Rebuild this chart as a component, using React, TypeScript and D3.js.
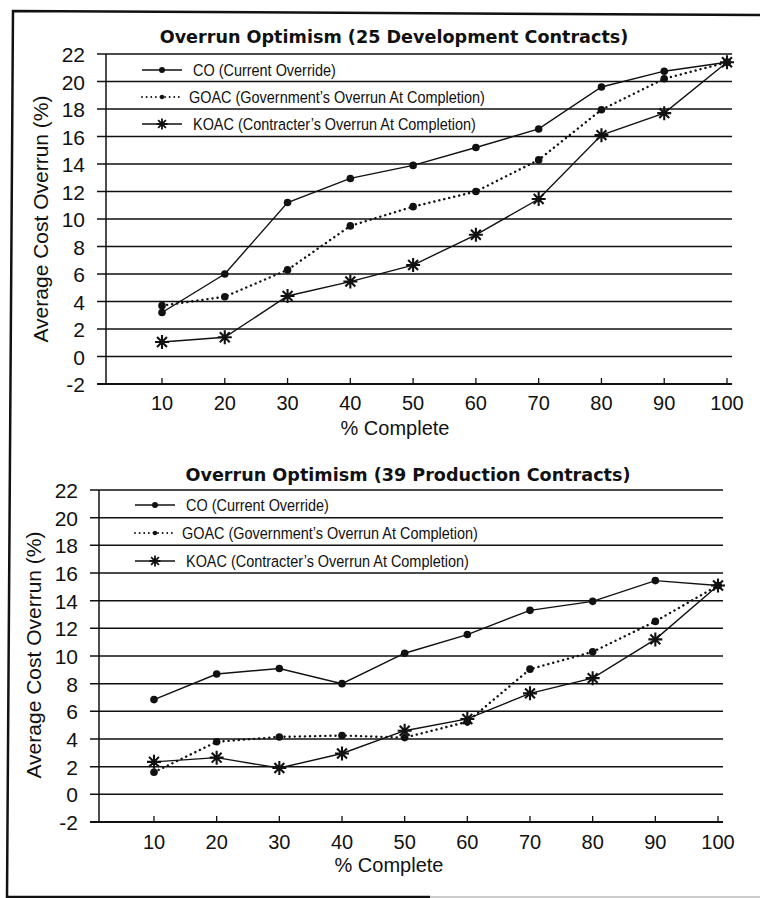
import * as d3 from "d3";
import { useEffect, useRef } from "react";

const PCT_COMPLETE = [10, 20, 30, 40, 50, 60, 70, 80, 90, 100];
const Y_TICKS = [-2, 0, 2, 4, 6, 8, 10, 12, 14, 16, 18, 20, 22];

const DEV_CO = [3.2, 6.0, 11.2, 12.95, 13.9, 15.2, 16.55, 19.6, 20.75, 21.4];
const DEV_GOAC = [3.7, 4.35, 6.3, 9.5, 10.9, 12.0, 14.3, 17.95, 20.2, 21.4];
const DEV_KOAC = [1.05, 1.4, 4.4, 5.45, 6.65, 8.85, 11.45, 16.1, 17.7, 21.4];

const PROD_CO = [6.85, 8.7, 9.1, 8.0, 10.2, 11.55, 13.3, 13.95, 15.45, 15.1];
const PROD_GOAC = [1.6, 3.8, 4.15, 4.25, 4.1, 5.25, 9.05, 10.3, 12.5, 15.1];
const PROD_KOAC = [2.35, 2.65, 1.9, 2.95, 4.6, 5.45, 7.3, 8.4, 11.2, 15.1];

const LEGEND_LABELS = [
  "CO (Current Override)",
  "GOAC (Government\u2019s Overrun At Completion)",
  "KOAC (Contracter\u2019s Overrun At Completion)",
];

const TICK_FONT = "'Liberation Sans', Arial, sans-serif";
const TITLE_FONT = "'DejaVu Sans', Arial, sans-serif";

type PanelLayout = {
  title: string;
  titleX: number;
  titleY: number;
  axisLeft: number;
  gridLeft: number;
  gridRight: number;
  xRange: [number, number];
  yRange: [number, number];
  yTickX: number;
  xTickY: number;
  xLabelX: number;
  xLabelY: number;
  yLabelX: number;
  yLabelY: number;
  legendX: number;
  legendRows: number[];
  co: number[];
  goac: number[];
  koac: number[];
};

const PANELS: PanelLayout[] = [
  {
    title: "Overrun Optimism (25 Development Contracts)",
    titleX: 394,
    titleY: 43,
    axisLeft: 106,
    gridLeft: 97,
    gridRight: 732,
    xRange: [162, 727],
    yRange: [384, 54],
    yTickX: 85,
    xTickY: 410,
    xLabelX: 395,
    xLabelY: 435,
    yLabelX: 41,
    yLabelY: 219,
    legendX: 142,
    legendRows: [70, 97, 124],
    co: DEV_CO,
    goac: DEV_GOAC,
    koac: DEV_KOAC,
  },
  {
    title: "Overrun Optimism (39 Production Contracts)",
    titleX: 408,
    titleY: 481,
    axisLeft: 99,
    gridLeft: 90,
    gridRight: 723,
    xRange: [154, 718],
    yRange: [822, 490],
    yTickX: 78,
    xTickY: 849,
    xLabelX: 389,
    xLabelY: 872,
    yLabelX: 34,
    yLabelY: 655,
    legendX: 135,
    legendRows: [505, 533, 561],
    co: PROD_CO,
    goac: PROD_GOAC,
    koac: PROD_KOAC,
  },
];

const starPath = (r: number) => {
  const parts: string[] = [];
  for (let i = 0; i < 4; i++) {
    const a = (i * Math.PI) / 4;
    const dx = Math.cos(a) * r;
    const dy = Math.sin(a) * r;
    parts.push(`M${-dx},${-dy}L${dx},${dy}`);
  }
  return parts.join("");
};

const drawPanel = (root: d3.Selection<SVGGElement, unknown, null, undefined>, p: PanelLayout) => {
  const x = d3.scaleLinear().domain([10, 100]).range(p.xRange);
  const y = d3.scaleLinear().domain([-2, 22]).range(p.yRange);
  const g = root.append("g");

  // horizontal grid, extended left of the axis like tick marks
  g.selectAll("line.grid")
    .data(Y_TICKS)
    .join("line")
    .attr("class", "grid")
    .attr("x1", p.gridLeft)
    .attr("x2", p.gridRight)
    .attr("y1", (d) => y(d))
    .attr("y2", (d) => y(d))
    .attr("stroke", "#111")
    .attr("stroke-width", (d) => (d === -2 ? 2 : 1.5));

  g.append("line")
    .attr("x1", p.axisLeft)
    .attr("x2", p.axisLeft)
    .attr("y1", y(22))
    .attr("y2", y(-2))
    .attr("stroke", "#111")
    .attr("stroke-width", 1.5);

  g.selectAll("line.xtick")
    .data(PCT_COMPLETE)
    .join("line")
    .attr("class", "xtick")
    .attr("x1", (d) => x(d))
    .attr("x2", (d) => x(d))
    .attr("y1", y(-2))
    .attr("y2", y(-2) - 6)
    .attr("stroke", "#111")
    .attr("stroke-width", 1.3);

  g.selectAll("text.ytick")
    .data(Y_TICKS)
    .join("text")
    .attr("class", "ytick")
    .attr("x", p.yTickX)
    .attr("y", (d) => y(d) + 8)
    .attr("text-anchor", "end")
    .style("font-family", TICK_FONT)
    .style("font-size", "21px")
    .attr("fill", "#111")
    .text((d) => d);

  g.selectAll("text.xtick")
    .data(PCT_COMPLETE)
    .join("text")
    .attr("class", "xtick")
    .attr("x", (d) => x(d))
    .attr("y", p.xTickY)
    .attr("text-anchor", "middle")
    .style("font-family", TICK_FONT)
    .style("font-size", "20px")
    .attr("fill", "#111")
    .text((d) => d);

  g.append("text")
    .attr("x", p.titleX)
    .attr("y", p.titleY)
    .attr("text-anchor", "middle")
    .style("font-family", TITLE_FONT)
    .style("font-weight", "bold")
    .style("font-size", "17.6px")
    .attr("fill", "#111")
    .text(p.title);

  g.append("text")
    .attr("x", p.xLabelX)
    .attr("y", p.xLabelY)
    .attr("text-anchor", "middle")
    .style("font-family", TICK_FONT)
    .style("font-size", "20px")
    .attr("fill", "#111")
    .text("% Complete");

  g.append("text")
    .attr("transform", `translate(${p.yLabelX},${p.yLabelY}) rotate(-90)`)
    .attr("text-anchor", "middle")
    .attr("dy", "0.35em")
    .style("font-family", TICK_FONT)
    .style("font-size", "21px")
    .attr("fill", "#111")
    .text("Average Cost Overrun (%)");

  const line = d3
    .line<number>()
    .x((_, i) => x(PCT_COMPLETE[i]))
    .y((d) => y(d));

  const series = [
    { values: p.co, dash: null as string | null, marker: "dot" },
    { values: p.goac, dash: "0.1 5", marker: "dot" },
    { values: p.koac, dash: null as string | null, marker: "star" },
  ];

  series.forEach((s) => {
    g.append("path")
      .datum(s.values)
      .attr("d", line)
      .attr("fill", "none")
      .attr("stroke", "#111")
      .attr("stroke-width", s.dash ? 2.4 : 1.4)
      .attr("stroke-linecap", s.dash ? "round" : "butt")
      .attr("stroke-dasharray", s.dash);
  });

  series.forEach((s) => {
    if (s.marker === "dot") {
      g.selectAll(null)
        .data(s.values)
        .join("circle")
        .attr("cx", (_, i) => x(PCT_COMPLETE[i]))
        .attr("cy", (d) => y(d))
        .attr("r", 3.8)
        .attr("fill", "#111");
    } else {
      g.selectAll(null)
        .data(s.values)
        .join("path")
        .attr("transform", (d, i) => `translate(${x(PCT_COMPLETE[i])},${y(d)})`)
        .attr("d", starPath(7))
        .attr("stroke", "#111")
        .attr("stroke-width", 2.1);
    }
  });

  // legend
  series.forEach((s, i) => {
    const ly = p.legendRows[i];
    const lg = g.append("g");
    lg.append("line")
      .attr("x1", p.legendX)
      .attr("x2", p.legendX + 40)
      .attr("y1", ly)
      .attr("y2", ly)
      .attr("stroke", "#111")
      .attr("stroke-width", s.dash ? 1.8 : 1.4)
      .attr("stroke-linecap", s.dash ? "round" : "butt")
      .attr("stroke-dasharray", s.dash ? "0.1 4.5" : null);
    if (s.marker === "dot") {
      lg.append("circle")
        .attr("cx", p.legendX + 20)
        .attr("cy", ly)
        .attr("r", s.dash ? 2.2 : 3)
        .attr("fill", "#111");
    } else {
      lg.append("path")
        .attr("transform", `translate(${p.legendX + 20},${ly})`)
        .attr("d", starPath(5.5))
        .attr("stroke", "#111")
        .attr("stroke-width", 1.8);
    }
    // condensed face of the original, approximated by a horizontal squeeze
    lg.append("text")
      .attr("transform", `translate(${p.legendX + 51 - (s.dash ? 4 : 0)},${ly + 6}) scale(0.85,1)`)
      .style("font-family", TICK_FONT)
      .style("font-size", "17px")
      .attr("fill", "#111")
      .text(LEGEND_LABELS[i]);
  });
};

const App = () => {
  const svgRef = useRef<SVGSVGElement | null>(null);

  useEffect(() => {
    if (!svgRef.current) return;
    const svg = d3.select(svgRef.current);
    svg.selectAll("*").remove();
    const root = svg.append("g");

    root
      .append("rect")
      .attr("width", 760)
      .attr("height", 898)
      .attr("fill", "white");

    // scanned frame (top, left, bottom edges)
    root
      .append("path")
      .attr("d", "M760,15 L13,11 L7,897 L430,897")
      .attr("fill", "none")
      .attr("stroke", "#111")
      .attr("stroke-width", 2.5);
    root
      .append("line")
      .attr("x1", 430)
      .attr("x2", 760)
      .attr("y1", 897)
      .attr("y2", 897)
      .attr("stroke", "#bbb")
      .attr("stroke-width", 1.5);

    PANELS.forEach((p) => drawPanel(root, p));
  }, []);

  return (
    <svg
      ref={svgRef}
      width={760}
      height={898}
      style={{ position: "absolute", left: 0, top: 0, background: "white" }}
    />
  );
};

export default App;
